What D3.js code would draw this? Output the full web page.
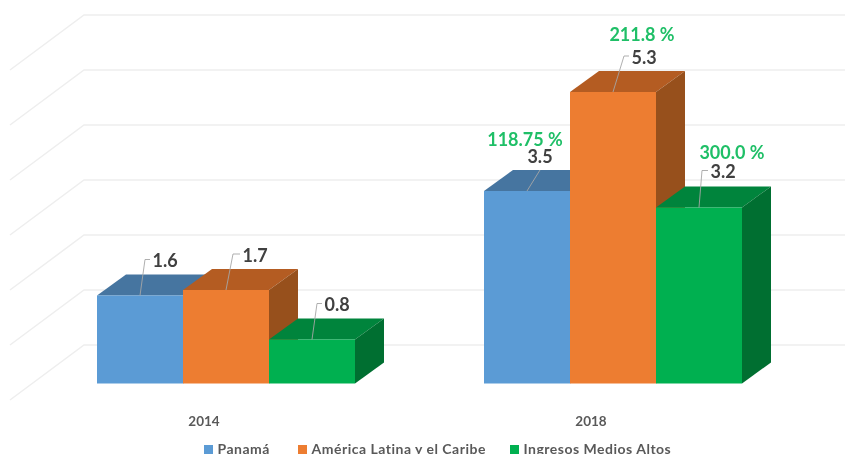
<!DOCTYPE html>
<html><head><meta charset="utf-8">
<script src="https://cdn.jsdelivr.net/npm/d3@7/dist/d3.min.js"></script>
<style>
html,body{margin:0;padding:0;background:#fff;overflow:hidden}
svg{display:block;filter:blur(0.45px)}
text{font-family:Lato,"Open Sans",sans-serif}
</style></head><body>
<svg id="c" width="845" height="454"></svg>
<script>
const years = ["2014","2018"];
const seriesNames = ["Panamá","América Latina y el Caribe","Ingresos Medios Altos"];
const panama = [1.6,3.5];
const latam = [1.7,5.3];
const medios = [0.8,3.2];
const changes = [null,["118.75 %","211.8 %","300.0 %"]];
const gridTicks = [0,1,2,3,4,5,6];
const fronts = ["#5B9BD5","#ED7D31","#00B050"];
const tops = ["#4675A0","#B45C22","#00843C"];
const sides = ["#3C6690","#97501C","#006F31"];
const values = [panama,latam,medios];

const svg = d3.select("#c");
const W = 845;
const y = d3.scaleLinear().domain([0,6]).range([383.5,53.5]);
const x0 = d3.scaleBand().domain(years).range([97,742]).paddingInner(1/3).paddingOuter(0);
const x1 = d3.scaleBand().domain(d3.range(3)).range([0,x0.bandwidth()]);
const dx = 29, dy = 21;            // bar depth
const wallDx = 74, wallDy = 55;    // floor depth
const backOffset = -38.5;          // back wall baseline relative to the front floor

// grid
const grid = svg.append("g").attr("fill","none").attr("stroke","#EEEEEE").attr("stroke-width",1.5);
gridTicks.forEach(t=>{
  const yb = y(t)+backOffset;
  grid.append("path").attr("d",`M10,${yb+wallDy}L${10+wallDx},${yb}L${W},${yb}`);
});

// leader geometry relative to the bar's top centre: [elbow dx, elbow y above bar, stub]
const leaders = [
  [[5,36,5],[7,36,7],[5,36,5]],
  [[13,21,0],[11,36,5],[3,37,6]]
];
const annotPos = [[-2,-51],[29,-57],[33,-55]];

const bars = svg.append("g");
const labels = svg.append("g");
years.forEach((yr,i)=>{
  values.forEach((vals,s)=>{
    const v = vals[i];
    const xl = x0(yr)+x1(s), w = x1.bandwidth(), xr = xl+w;
    const yt = y(v), yb = y(0);
    const g = bars.append("g");
    g.append("path").attr("fill",tops[s]).attr("d",`M${xl},${yt}L${xl+dx},${yt-dy}L${xr+dx},${yt-dy}L${xr},${yt}Z`);
    g.append("path").attr("fill",sides[s]).attr("d",`M${xr},${yt}L${xr+dx},${yt-dy}L${xr+dx},${yb-dy}L${xr},${yb}Z`);
    g.append("rect").attr("x",xl).attr("y",yt).attr("width",w).attr("height",yb-yt).attr("fill",fronts[s]);

    const cx = xl+w/2;
    const [ex,ey,stub] = leaders[i][s];
    labels.append("path").attr("fill","none").attr("stroke","#A6A6A6").attr("stroke-width",0.9)
      .attr("d",`M${cx},${yt}L${cx+ex},${yt-ey}h${stub}`);
    const centred = stub===0;
    labels.append("text")
      .attr("x",centred?cx+ex:cx+ex+stub+2.5)
      .attr("y",centred?yt-34:yt-ey+1.5)
      .attr("dy","0.35em")
      .attr("text-anchor",centred?"middle":"start")
      .attr("font-size",18).attr("font-weight",700).attr("fill","#404040")
      .text(d3.format(".1f")(v));
    if(changes[i]){
      labels.append("text")
        .attr("x",cx+annotPos[s][0]).attr("y",yt+annotPos[s][1])
        .attr("dy","0.35em").attr("text-anchor","middle")
        .attr("font-size",18).attr("font-weight",700).attr("fill","#1FBF67")
        .text(changes[i][s]);
    }
  });
  svg.append("text").attr("x",x0(yr)+x0.bandwidth()/2-22).attr("y",421)
    .attr("dy","0.35em").attr("text-anchor","middle")
    .attr("font-size",13.5).attr("font-weight",700).attr("fill","#595959").text(yr);
});

// legend
const legendX = d3.scaleOrdinal().domain(seriesNames).range([204,298,510]);
const lg = svg.append("g");
seriesNames.forEach((n,s)=>{
  lg.append("rect").attr("x",legendX(n)).attr("y",445).attr("width",9).attr("height",9).attr("fill",fronts[s]);
  lg.append("text").attr("x",legendX(n)+13.5).attr("y",449.5).attr("dy","0.35em")
    .attr("font-size",14).attr("font-weight",700).attr("letter-spacing",0.5).attr("fill","#595959").text(n);
});
</script>
</body></html>
